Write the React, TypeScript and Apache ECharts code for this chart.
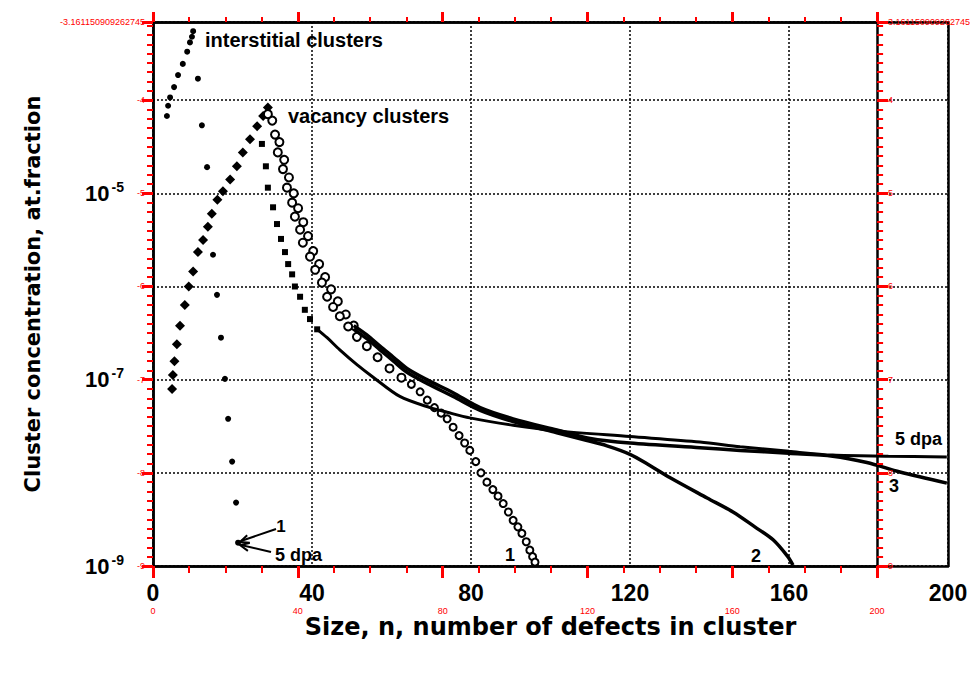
import React, { useEffect, useRef } from 'react';
import * as echarts from 'echarts';

// ---- Data (n = cluster size, c = concentration, at. fraction) ----
const interstitialN = [3.5, 3.8, 4.3, 5.3, 6.3, 7.5, 8.6, 9.3, 9.8, 10.1, 11.3, 12.3, 13.6, 15.1, 16.1, 17.1, 18.1, 18.9, 19.9, 20.9, 21.4];
const interstitialC = [6.76e-5, 8.71e-5, 1.07e-4, 1.38e-4, 1.86e-4, 2.45e-4, 3.31e-4, 4.17e-4, 4.79e-4, 5.5e-4, 1.7e-4, 5.37e-5, 1.91e-5, 2.19e-6, 8.13e-7, 2.82e-7, 1.02e-7, 3.8e-8, 1.32e-8, 4.79e-9, 1.78e-9];

const vacRiseN = [4.8, 5.0, 5.4, 6.0, 6.8, 8.0, 9.0, 10.1, 11.3, 12.6, 13.8, 14.8, 16.2, 17.6, 19.4, 21.1, 22.6, 24.4, 26.2, 27.7, 28.9];
const vacRiseC = [7.94e-8, 1.12e-7, 1.58e-7, 2.4e-7, 3.8e-7, 6.31e-7, 1.0e-6, 1.45e-6, 2.34e-6, 3.16e-6, 4.37e-6, 6.03e-6, 8.51e-6, 1.05e-5, 1.41e-5, 1.95e-5, 2.75e-5, 3.8e-5, 5.25e-5, 6.76e-5, 8.32e-5];

const dpa5DropN = [27.4, 28.4, 28.9, 30.2, 31.2, 32.2, 33.2, 34.0, 35.0, 35.7, 37.0, 38.2, 39.5, 41.3];
const dpa5DropC = [3.39e-5, 1.95e-5, 1.15e-5, 7.08e-6, 4.68e-6, 3.24e-6, 2.34e-6, 1.74e-6, 1.35e-6, 1.0e-6, 7.76e-7, 5.62e-7, 4.47e-7, 3.47e-7];
const dpa5TailN = [41.3, 43.8, 47.0, 51.3, 55.3, 62.1, 69.7, 74.0, 79.7, 90.6, 101.6, 120.0, 137.6, 147.7, 160.0, 171.0, 185.0, 199.7];
const dpa5TailC = [3.47e-7, 2.82e-7, 2.09e-7, 1.45e-7, 1.07e-7, 6.61e-8, 5.01e-8, 4.47e-8, 3.89e-8, 3.24e-8, 2.82e-8, 2.45e-8, 2.14e-8, 1.91e-8, 1.7e-8, 1.55e-8, 1.51e-8, 1.48e-8];

const dpa1DropN = [28.9, 30.7, 31.4, 32.7, 33.7, 35.0, 35.7, 37.0, 37.7, 39.5, 40.8, 42.5, 43.8, 45.3, 47.0, 49.1, 51.3, 53.8, 56.5, 59.5, 62.5];
const dpa1DropC = [7.08e-5, 4.27e-5, 2.75e-5, 1.82e-5, 1.15e-5, 7.94e-6, 5.62e-6, 4.07e-6, 2.95e-6, 2.09e-6, 1.51e-6, 1.1e-6, 7.76e-7, 6.03e-7, 4.79e-7, 3.72e-7, 2.88e-7, 2.29e-7, 1.74e-7, 1.32e-7, 1.05e-7];
const dpa1TailN = [65.0, 67.2, 69.0, 70.8, 72.5, 74.0, 75.5, 77.0, 78.4, 79.7, 81.2, 82.5, 84.0, 85.5, 86.8, 88.1, 89.4, 90.6, 91.8, 92.8, 93.9, 94.8, 95.5, 96.1];
const dpa1TailC = [8.91e-8, 7.41e-8, 6.03e-8, 5.01e-8, 4.37e-8, 3.8e-8, 3.09e-8, 2.51e-8, 2.09e-8, 1.74e-8, 1.32e-8, 1.0e-8, 7.94e-9, 6.61e-9, 5.62e-9, 4.68e-9, 3.8e-9, 3.09e-9, 2.63e-9, 2.24e-9, 1.82e-9, 1.48e-9, 1.26e-9, 1.1e-9];

const dpa23DropN = [30.0, 31.8, 33.0, 34.2, 35.4, 36.5, 37.8, 39.0, 40.3, 41.8, 43.3, 44.8, 46.5, 48.5, 50.5];
const dpa23DropC = [6.03e-5, 3.55e-5, 2.29e-5, 1.48e-5, 1.0e-5, 6.92e-6, 4.9e-6, 3.47e-6, 2.4e-6, 1.74e-6, 1.26e-6, 9.33e-7, 6.92e-7, 5.01e-7, 3.8e-7];
const dpa2TailN = [50.5, 53.8, 57.1, 60.5, 63.9, 68.9, 75.5, 82.3, 90.6, 101.6, 108.0, 114.2, 120.0, 125.0, 130.0, 139.4, 145.9, 151.4, 156.0, 159.7, 161.0];
const dpa2TailC = [3.47e-7, 2.75e-7, 2.09e-7, 1.58e-7, 1.2e-7, 9.12e-8, 6.61e-8, 4.68e-8, 3.55e-8, 2.69e-8, 2.29e-8, 1.95e-8, 1.58e-8, 1.2e-8, 8.91e-9, 5.37e-9, 3.8e-9, 2.63e-9, 1.91e-9, 1.26e-9, 1.02e-9];
const dpa3TailN = [50.5, 53.8, 57.1, 60.5, 63.9, 68.9, 75.5, 82.3, 90.6, 101.6, 110.0, 120.0, 137.6, 147.7, 160.0, 171.0, 179.6, 187.9, 199.7];
const dpa3TailC = [3.8e-7, 3.02e-7, 2.29e-7, 1.74e-7, 1.32e-7, 1.0e-7, 7.24e-8, 5.01e-8, 3.8e-8, 2.88e-8, 2.34e-8, 2.09e-8, 1.86e-8, 1.74e-8, 1.62e-8, 1.51e-8, 1.29e-8, 1.02e-8, 7.76e-9];

const xMin = 0;
const xMax = 200;
const xStep = 40;
const yMin = 1e-9;
const yMax = 6.9e-4;
const yLabelExponents = [-9, -7, -5];

const FONT_NUM = '"Liberation Sans", Arial, sans-serif';
const FONT_NAME = '"DejaVu Sans", "Liberation Sans", sans-serif';

const pairs = (xs: number[], ys: number[]) => xs.map((x, i) => [x, ys[i]]);

const black = '#000';
const TICK = 'red';

function gridOpt() {
  return { left: 153, right: 25, top: 22, bottom: 111, containLabel: false };
}

function mainOption(): any {
  const t = (text: string, x: number, y: number, size: number, align = 'left') => ({
    type: 'text', x, y, silent: true,
    style: { text, fill: black, font: `bold ${size}px ${FONT_NUM}`, textAlign: align, align, textVerticalAlign: 'middle', verticalAlign: 'middle' },
  });
  const scatterStyle = { color: black, opacity: 1 };
  const ringStyle = (w: number) => ({ color: black, borderColor: black, borderWidth: w, opacity: 1 });
  const line = () => ({ show: true, onZero: false, lineStyle: { color: black, width: 2.5 } });
  const dotted = () => ({ type: [2, 2], width: 1.5, color: black });
  return {
    animation: false,
    backgroundColor: '#fff',
    grid: gridOpt(),
    xAxis: [
      {
        type: 'value', position: 'bottom', min: xMin, max: xMax, interval: xStep,
        name: 'Size, n, number of defects in cluster', nameLocation: 'middle', nameGap: 49,
        nameTextStyle: { fontFamily: FONT_NAME, fontWeight: 'bold', fontSize: 24, color: black },
        axisLine: line(), axisTick: { show: false },
        axisLabel: { margin: 15, fontFamily: FONT_NUM, fontWeight: 'bold', fontSize: 23, color: black },
        splitLine: { show: true, lineStyle: dotted() },
      },
      { type: 'value', position: 'top', min: xMin, max: xMax, interval: xStep, axisLine: line(), axisTick: { show: false }, axisLabel: { show: false }, splitLine: { show: false } },
    ],
    yAxis: [
      {
        type: 'log', logBase: 10, position: 'left', min: yMin, max: yMax,
        name: 'Cluster concentration, at.fraction', nameLocation: 'middle', nameRotate: 90, nameGap: 110,
        nameTextStyle: { fontFamily: FONT_NAME, fontWeight: 'bold', fontSize: 21, color: black },
        axisLine: line(), axisTick: { show: false },
        axisLabel: {
          margin: 29, color: black,
          formatter: (v: number) => {
            const lg = Math.log10(v);
            const e = Math.round(lg);
            if (Math.abs(lg - e) > 1e-6 || yLabelExponents.indexOf(e) < 0) return '';
            return `{b|10}{s|${e}}`;
          },
          rich: {
            b: { fontFamily: FONT_NUM, fontWeight: 'bold', fontSize: 22, color: black },
            s: { fontFamily: FONT_NUM, fontWeight: 'bold', fontSize: 14, color: black, padding: [0, 0, 13, 2] },
          },
        },
        splitLine: { show: true, lineStyle: dotted() },
      },
      { type: 'log', logBase: 10, position: 'right', min: yMin, max: yMax, axisLine: line(), axisTick: { show: false }, axisLabel: { show: false }, splitLine: { show: false } },
    ],
    series: [
      { name: '5 dpa', type: 'line', data: pairs(dpa5TailN, dpa5TailC), showSymbol: false, smooth: 0.3, lineStyle: { color: black, width: 3 } },
      { name: '2', type: 'line', data: pairs(dpa2TailN, dpa2TailC), showSymbol: false, smooth: 0.3, lineStyle: { color: black, width: 3.5 } },
      { name: '3', type: 'line', data: pairs(dpa3TailN, dpa3TailC), showSymbol: false, smooth: 0.3, lineStyle: { color: black, width: 3.5 } },
      { name: 'interstitial clusters', type: 'scatter', data: pairs(interstitialN, interstitialC), symbol: 'circle', symbolSize: 6, itemStyle: scatterStyle },
      { name: 'vacancy clusters (rising)', type: 'scatter', data: pairs(vacRiseN, vacRiseC), symbol: 'diamond', symbolSize: 10, itemStyle: scatterStyle },
      { name: '5 dpa drop', type: 'scatter', data: pairs(dpa5DropN, dpa5DropC), symbol: 'rect', symbolSize: 6, itemStyle: scatterStyle },
      { name: '2, 3 drop', type: 'scatter', data: pairs(dpa23DropN, dpa23DropC), symbol: 'emptyCircle', symbolSize: 8, itemStyle: ringStyle(3) },
      { name: '1 drop', type: 'scatter', data: pairs(dpa1DropN, dpa1DropC), symbol: 'emptyCircle', symbolSize: 8, itemStyle: ringStyle(3) },
      { name: '1', type: 'scatter', data: pairs(dpa1TailN, dpa1TailC), symbol: 'emptyCircle', symbolSize: 7, itemStyle: ringStyle(2.2) },
    ],
    graphic: [
      t('interstitial clusters', 205, 40, 20),
      t('vacancy clusters', 288, 116, 20),
      t('1', 510, 555, 18, 'center'),
      t('2', 756, 556, 18, 'center'),
      t('3', 894, 486, 18, 'center'),
      t('5 dpa', 942, 439, 18, 'right'),
      t('1', 281, 526, 17, 'center'),
      t('5 dpa', 275, 555, 18, 'left'),
      { type: 'line', silent: true, shape: { x1: 276, y1: 529, x2: 241, y2: 541 }, style: { stroke: black, lineWidth: 2 } },
      { type: 'polyline', silent: true, shape: { points: [[249.8, 542.8], [240, 542], [247.2, 535.2]] }, style: { stroke: black, lineWidth: 2, fill: 'none' } },
      { type: 'line', silent: true, shape: { x1: 271, y1: 552, x2: 241, y2: 545 }, style: { stroke: black, lineWidth: 2 } },
      { type: 'polyline', silent: true, shape: { points: [[249.7, 543.1], [240, 545], [247.9, 550.9]] }, style: { stroke: black, lineWidth: 2, fill: 'none' } },
    ],
  };
}

function tickOption(): any {
  const lgMin = Math.log10(yMin);
  const lgMax = Math.log10(yMax);
  const tick = (len: number) => ({ show: true, inside: false, length: len, lineStyle: { color: TICK, width: 3 } });
  const minor = (n: number, len: number) => ({ show: true, splitNumber: n, length: len, lineStyle: { color: TICK, width: 2 } });
  const expAxis = (pos: string) => ({
    type: 'value', position: pos, min: lgMin, max: lgMax, interval: 1,
    axisLine: { show: true, onZero: false, lineStyle: { color: black, width: 2.5 } },
    axisTick: tick(11), minorTick: minor(10, 6),
    axisLabel: { show: true, color: TICK, fontSize: 9 },
    splitLine: { show: false },
  });
  return {
    animation: false,
    grid: gridOpt(),
    xAxis: [
      { type: 'value', position: 'bottom', min: xMin, max: xMax, interval: xStep, axisLine: { show: true, onZero: false, lineStyle: { color: black, width: 2.5 } }, axisTick: tick(12), minorTick: minor(4, 7), axisLabel: { show: true, color: TICK, fontSize: 9, margin: 40 }, splitLine: { show: false } },
      { type: 'value', position: 'top', min: xMin, max: xMax, interval: xStep, axisLine: { show: true, onZero: false, lineStyle: { color: black, width: 2.5 } }, axisTick: tick(10), minorTick: minor(4, 5), axisLabel: { show: false }, splitLine: { show: false } },
    ],
    yAxis: [expAxis('left'), expAxis('right')],
    series: [{ type: 'scatter', data: [[100, -6]], symbolSize: 1, itemStyle: { color: 'rgba(0,0,0,0)' } }],
  };
}

export default function App() {
  const mainRef = useRef<HTMLDivElement>(null);
  const tickRef = useRef<HTMLDivElement>(null);
  useEffect(() => {
    if (!mainRef.current || !tickRef.current) return;
    const chart = echarts.init(mainRef.current, null, { renderer: 'svg' });
    chart.setOption(mainOption());
    const ticks = echarts.init(tickRef.current, null, { renderer: 'svg' });
    ticks.setOption(tickOption());
    return () => {
      ticks.dispose();
      chart.dispose();
    };
  }, []);
  const box: React.CSSProperties = { position: 'fixed', left: 0, top: 0, width: 973, height: 677 };
  return (
    <>
      <div ref={mainRef} style={{ ...box, background: '#fff' }} />
      <div ref={tickRef} style={{ ...box, pointerEvents: 'none', zIndex: 1 }} />
    </>
  );
}
